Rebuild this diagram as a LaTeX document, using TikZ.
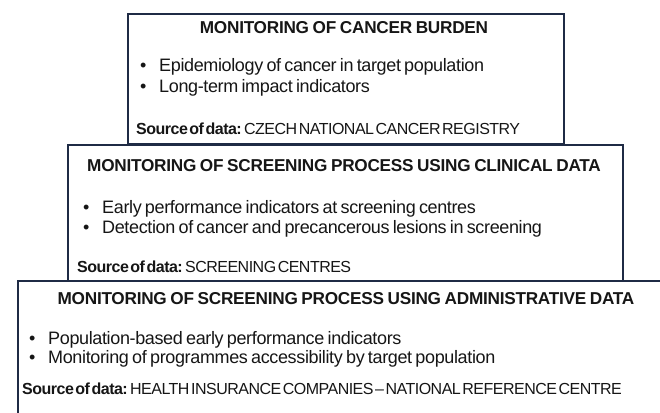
\documentclass[tikz,border=0pt]{standalone}
\usepackage{fontspec}
\setmainfont{Liberation Sans}
% tighter cuts of the same face
\newfontfamily\headfont{Liberation Sans}[LetterSpace=-1.5, WordSpace=0.8]
\newfontfamily\listfont{Liberation Sans}[LetterSpace=-2, WordSpace=0.7]
\newfontfamily\srcfont{Liberation Sans}[LetterSpace=-3.2, WordSpace=0.4]

\definecolor{framecol}{HTML}{1F2B45}
\definecolor{inkcol}{HTML}{161616}

\tikzset{
  panel/.style={draw=framecol, line width=1.6pt, fill=white, anchor=north west, inner sep=0pt},
  heading/.style={font=\headfont\bfseries\fontsize{17.2}{20}\selectfont, text=inkcol, anchor=base, inner sep=0pt},
  point/.style={font=\listfont\fontsize{18}{21}\selectfont, text=inkcol, anchor=base west, inner sep=0pt},
  source/.style={font=\srcfont\fontsize{16}{19}\selectfont, text=inkcol, anchor=base west, inner sep=0pt},
}
\newcommand{\bitem}[1]{\makebox[19pt][l]{\textbullet}#1}
\newcommand{\src}[1]{\textbf{Source of data:}#1}

\begin{document}
\begin{tikzpicture}[x=1pt, y=-1pt]
  \clip (0,0) rectangle (660,412);
  \fill[white] (0,0) rectangle (660,412);

  % Panels, top to bottom (each one covers the lower edge of the one above)
  \node[panel, minimum width=436, minimum height=130] (burden) at (127,13) {};
  \node[panel, minimum width=555, minimum height=136] (clinical) at (67,144) {};
  \node[panel, minimum width=700, minimum height=150] (admin) at (17,280) {};

  % Cancer burden
  \node[heading] (burdenhead) at (344,33.5) {MONITORING OF CANCER BURDEN};
  \node[point] (burdenA) at (140,71) {\bitem{Epidemiology of cancer in target population}};
  \node[point] (burdenB) at (140,92) {\bitem{Long-term impact indicators}};
  \node[source] (burdensrc) at (136,134) {\src{ CZECH NATIONAL CANCER REGISTRY}};

  % Clinical data
  \node[heading] (clinicalhead) at (344,171) {MONITORING OF SCREENING PROCESS USING CLINICAL DATA};
  \node[point] (clinicalA) at (83,213.5) {\bitem{Early performance indicators at screening centres}};
  \node[point] (clinicalB) at (83,233.5) {\bitem{Detection of cancer and precancerous lesions in screening}};
  \node[source] (clinicalsrc) at (77,272) {\src{ SCREENING CENTRES}};

  % Administrative data
  \node[heading] (adminhead) at (346,304) {MONITORING OF SCREENING PROCESS USING ADMINISTRATIVE DATA};
  \node[point] (adminA) at (29,344.5) {\bitem{Population-based early performance indicators}};
  \node[point] (adminB) at (29,363.5) {\bitem{Monitoring of programmes accessibility by target population}};
  \node[source] (adminsrc) at (22,394) {\src{ HEALTH INSURANCE COMPANIES \textendash{} NATIONAL REFERENCE CENTRE}};
\end{tikzpicture}
\end{document}
